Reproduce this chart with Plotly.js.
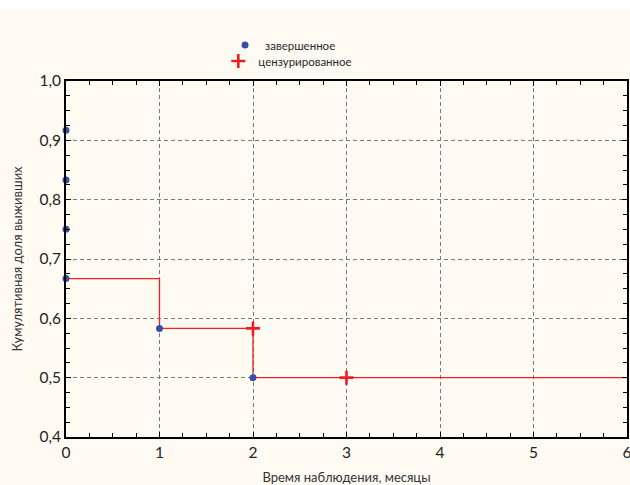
<!DOCTYPE html>
<html>
<head>
<meta charset="utf-8">
<script src="https://cdn.plot.ly/plotly-3.0.1.min.js"></script>
<style>
html,body{margin:0;padding:0;background:#ffffff;}
#chart{position:absolute;left:0;top:10px;width:630px;height:475px;}
</style>
</head>
<body>
<div id="chart"></div>
<script>
// Step curve (Kaplan–Meier)
const stepX = [0, 1, 1, 2, 2, 6];
const stepY = [0.667, 0.667, 0.583, 0.583, 0.5, 0.5];
// Completed observations
const completedX = [0, 0, 0, 0, 1, 2];
const completedY = [0.917, 0.833, 0.75, 0.667, 0.583, 0.5];
// Censored observations
const censoredX = [2, 3];
const censoredY = [0.583, 0.5];
// Labels
const completedName = 'завершенное';
const censoredName = 'цензурированное';
const xTitle = 'Время наблюдения, месяцы';
const yTitle = 'Кумулятивная доля выживших';

const FONT = 'Lato, "Open Sans", sans-serif';

const traces = [
  {x: stepX, y: stepY, mode: 'lines', line: {color: '#f02020', width: 1.3, shape: 'linear'},
   showlegend: false, hoverinfo: 'skip', cliponaxis: false},
  {x: completedX, y: completedY, mode: 'markers', name: completedName, legend: 'legend',
   marker: {color: '#3450a4', size: 7, symbol: 'circle'}, cliponaxis: false},
  {x: censoredX, y: censoredY, mode: 'markers', name: censoredName, legend: 'legend2',
   marker: {color: '#ee1c24', size: 10, symbol: 'cross-thin', line: {color: '#ee1c24', width: 2.6}}, cliponaxis: false}
];

const axisCommon = {
  showline: true, linecolor: '#000', linewidth: 2, mirror: 'ticks',
  ticks: 'inside', ticklen: 5, tickcolor: '#000', tickwidth: 1,
  showgrid: true, gridcolor: '#7a7a7a', griddash: '4px,3px', gridwidth: 1,
  zeroline: false, ticklabeloverflow: 'allow',
  tickfont: {family: FONT, size: 15.5, color: '#222'}
};

const legendCommon = {
  xanchor: 'left', yanchor: 'middle', yref: 'container',
  bgcolor: 'rgba(0,0,0,0)', font: {family: FONT, size: 11.5, color: '#2a2a2a'},
  itemwidth: 30
};

const layout = {
  width: 630, height: 475,
  paper_bgcolor: '#fffbf3', plot_bgcolor: '#fffbf3',
  separators: ', ',
  margin: {l: 66, r: 3, t: 71, b: 48},
  showlegend: true,
  legend: Object.assign({}, legendCommon, {x: 0.2835, y: 1 - 35 / 475}),
  legend2: Object.assign({}, legendCommon, {x: 0.2715, y: 1 - 51 / 475}),
  xaxis: Object.assign({}, axisCommon, {
    range: [0, 6], dtick: 1, tick0: 0,
    minor: {dtick: 0.25, ticks: 'inside', ticklen: 4, tickcolor: '#000', showgrid: false},
    title: {text: xTitle, font: {family: FONT, size: 13, color: '#333'}, standoff: 14}
  }),
  yaxis: Object.assign({}, axisCommon, {
    range: [0.4, 1.0], dtick: 0.1, tick0: 0.4, tickformat: '.1f',
    minor: {dtick: 0.025, ticks: 'inside', ticklen: 4, tickcolor: '#000', showgrid: false},
    title: {text: yTitle, font: {family: FONT, size: 13, color: '#333'}, standoff: 14}
  })
};

Plotly.newPlot('chart', traces, layout, {displayModeBar: false, staticPlot: true});
</script>
</body>
</html>
